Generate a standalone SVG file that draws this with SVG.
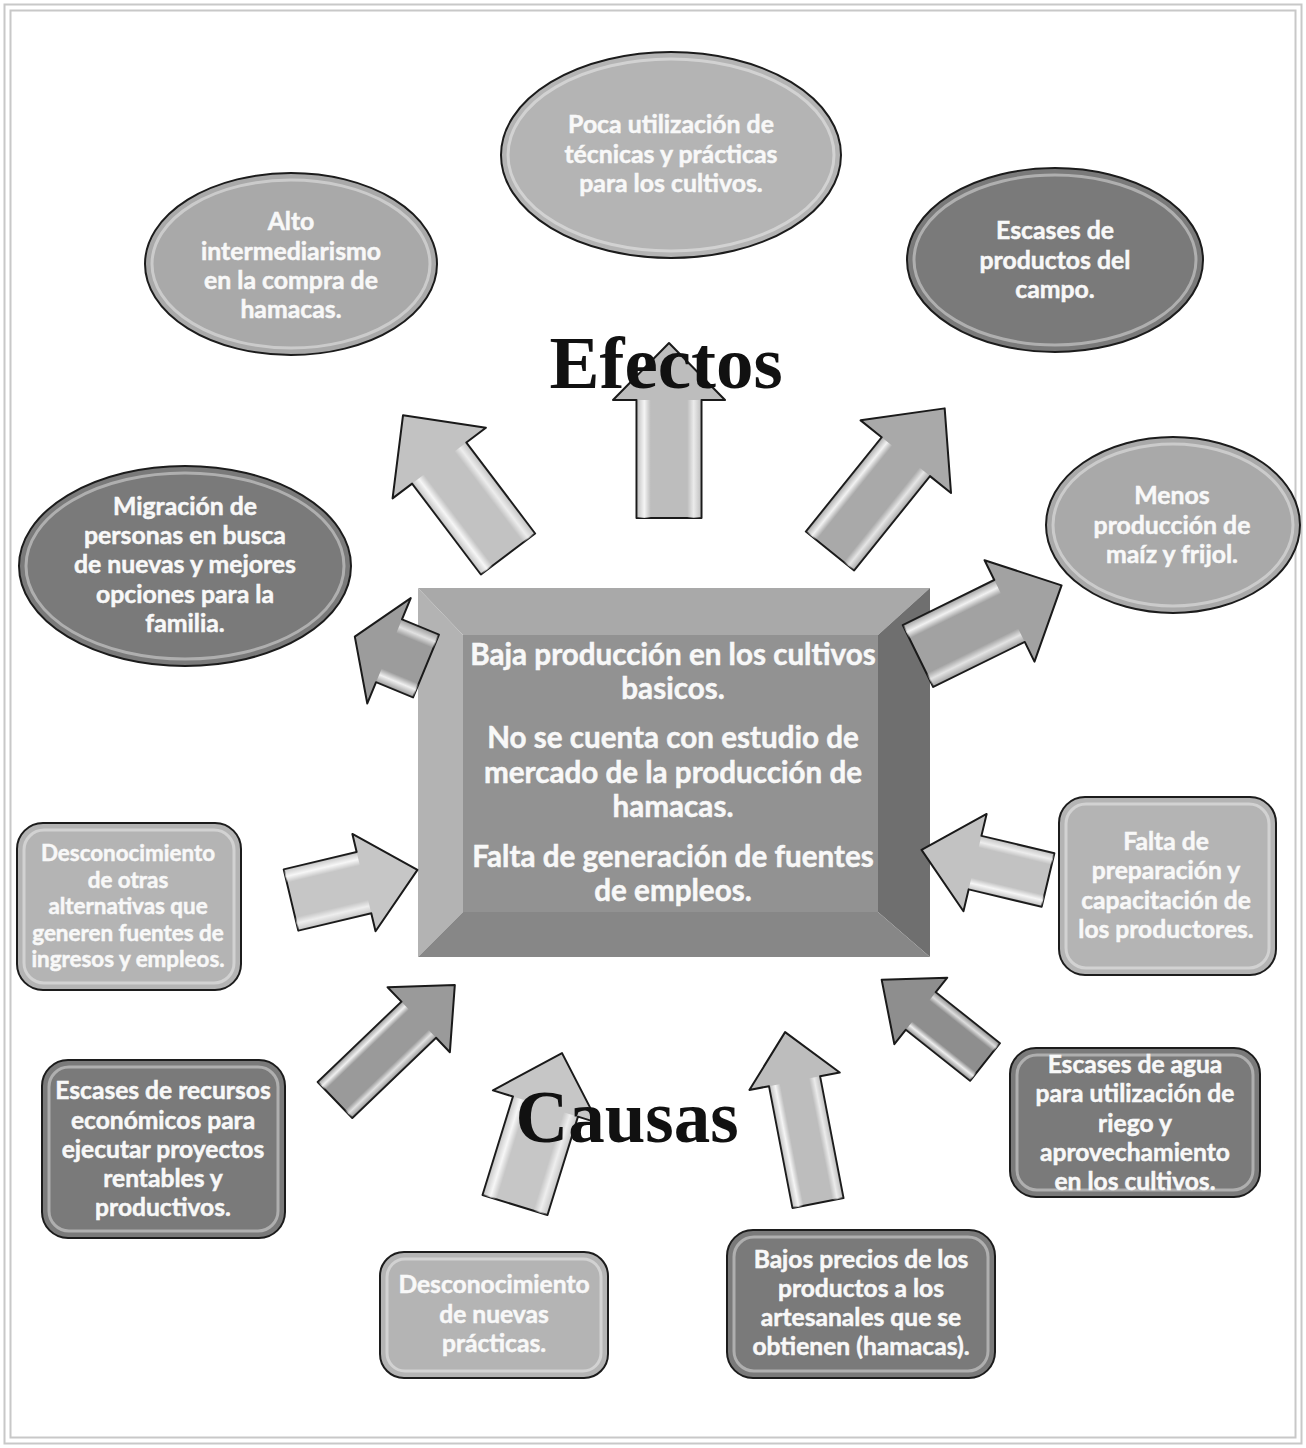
<svg xmlns="http://www.w3.org/2000/svg" width="1306" height="1448" viewBox="0 0 1306 1448">
<style>
.frame{fill:none;stroke:#c8c8c8;stroke-width:2}
.t{font-family:Lato,"Open Sans","Liberation Sans",sans-serif;font-weight:bold;fill:#f8f8f8;stroke:#f8f8f8;stroke-width:0.5;text-anchor:middle}
.e{font-size:24.8px}
.r{font-size:24.6px}
.s{font-size:22.4px}
.c{font-size:29.6px}
.title{font-family:"Liberation Serif",serif;font-weight:bold;fill:#111;text-anchor:middle}
.nd{stroke:#1c1c1c;stroke-width:2}
.hl{fill:none;stroke:#ffffff;stroke-opacity:0.4;stroke-width:3}
.light{fill:#b4b4b4}
.mid{fill:#a9a9a9}
.dark{fill:#7a7a7a}
.ar{stroke:#1a1a1a;stroke-width:2;stroke-linejoin:round}
</style>
<defs>
<linearGradient id="shine" x1="0" y1="0" x2="0" y2="1">
<stop offset="0" stop-color="#fff" stop-opacity="0"/>
<stop offset="0.12" stop-color="#fff" stop-opacity="0.85"/>
<stop offset="0.22" stop-color="#fff" stop-opacity="0"/>
<stop offset="0.78" stop-color="#fff" stop-opacity="0"/>
<stop offset="0.88" stop-color="#fff" stop-opacity="0.7"/>
<stop offset="1" stop-color="#fff" stop-opacity="0"/>
</linearGradient>
</defs>
<rect class="frame" x="4.5" y="4.5" width="1297" height="1439"/>
<rect class="frame" x="10.5" y="10.5" width="1285" height="1427"/>

<g id="center">
<polygon points="418,588 930,588 878,635 463,635" fill="#a9a9a9"/>
<polygon points="418,588 463,635 463,912 418,957" fill="#b3b3b3"/>
<polygon points="930,588 930,957 878,912 878,635" fill="#6f6f6f"/>
<polygon points="418,957 463,912 878,912 930,957" fill="#878787"/>
<rect x="463" y="635" width="415" height="277" fill="#929292"/>
<text class="t c"><tspan x="673" y="665">Baja producción en los cultivos</tspan><tspan x="673" y="699">basicos.</tspan><tspan x="673" y="748">No se cuenta con estudio de</tspan><tspan x="673" y="783">mercado de la producción de</tspan><tspan x="673" y="817">hamacas.</tspan><tspan x="673" y="867">Falta de generación de fuentes</tspan><tspan x="673" y="901">de empleos.</tspan></text>
</g>

<g id="connectors">
<g transform="translate(508,554) rotate(-127.1)"><polygon class="ar" fill="#c2c2c2" points="0,-34 114,-34 114,-58.5 174,0 114,58.5 114,34 0,34"/><rect x="0" y="-34" width="114" height="68" fill="url(#shine)"/></g>
<g transform="translate(669,518) rotate(-90)"><polygon class="ar" fill="#bdbdbd" points="0,-32.5 118,-32.5 118,-56 175,0 118,56 118,32.5 0,32.5"/><rect x="0" y="-32.5" width="118" height="65" fill="url(#shine)"/></g>
<g transform="translate(830,551) rotate(-51.2)"><polygon class="ar" fill="#a9a9a9" points="0,-31 121,-31 121,-58 183,0 121,58 121,31 0,31"/><rect x="0" y="-31" width="121" height="62" fill="url(#shine)"/></g>
<g transform="translate(426,666) rotate(202.4)"><polygon class="ar" fill="#9c9c9c" points="0,-34 40,-34 40,-57 77,0 40,57 40,34 0,34"/><rect x="0" y="-34" width="40" height="68" fill="url(#shine)"/></g>
<g transform="translate(918,656) rotate(-26.2)"><polygon class="ar" fill="#a2a2a2" points="0,-34.5 102,-34.5 102,-56.5 160,0 102,56.5 102,34.5 0,34.5"/><rect x="0" y="-34.5" width="102" height="69" fill="url(#shine)"/></g>
<g transform="translate(291,900) rotate(-13.4)"><polygon class="ar" fill="#c6c6c6" points="0,-31.5 75,-31.5 75,-50 130,0 75,50 75,31.5 0,31.5"/><rect x="0" y="-31.5" width="75" height="63" fill="url(#shine)"/></g>
<g transform="translate(335,1100) rotate(-43.8)"><polygon class="ar" fill="#9a9a9a" points="0,-25 116,-25 116,-45 166,0 116,45 116,25 0,25"/><rect x="0" y="-25" width="116" height="50" fill="url(#shine)"/></g>
<g transform="translate(515,1205) rotate(-72.8)"><polygon class="ar" fill="#c6c6c6" points="0,-34 103,-34 103,-55 159,0 103,55 103,34 0,34"/><rect x="0" y="-34" width="103" height="68" fill="url(#shine)"/></g>
<g transform="translate(818,1203) rotate(-100.9)"><polygon class="ar" fill="#bdbdbd" points="0,-26 124,-26 124,-46 174,0 124,46 124,26 0,26"/><rect x="0" y="-26" width="124" height="52" fill="url(#shine)"/></g>
<g transform="translate(985,1062) rotate(-141.5)"><polygon class="ar" fill="#8e8e8e" points="0,-24 82,-24 82,-42.5 132,0 82,42.5 82,24 0,24"/><rect x="0" y="-24" width="82" height="48" fill="url(#shine)"/></g>
<g transform="translate(1048,880) rotate(-166.6)"><polygon class="ar" fill="#c2c2c2" points="0,-27.5 75,-27.5 75,-50 130,0 75,50 75,27.5 0,27.5"/><rect x="0" y="-27.5" width="75" height="55" fill="url(#shine)"/></g>
</g>

<text class="title" x="666" y="388" font-size="75">Efectos</text>
<text class="title" x="627" y="1142" font-size="73">Causas</text>

<g id="e1">
<ellipse class="nd light" cx="671" cy="155" rx="170" ry="103"/>
<ellipse class="hl" cx="671" cy="155" rx="163" ry="96"/>
<text class="t e"><tspan x="671" y="133">Poca utilización de</tspan><tspan x="671" y="163">técnicas y prácticas</tspan><tspan x="671" y="192">para los cultivos.</tspan></text>
</g>
<g id="e2">
<ellipse class="nd mid" cx="291" cy="264" rx="146" ry="91"/>
<ellipse class="hl" cx="291" cy="264" rx="139" ry="84"/>
<text class="t e"><tspan x="291" y="230">Alto</tspan><tspan x="291" y="260">intermediarismo</tspan><tspan x="291" y="289">en la compra de</tspan><tspan x="291" y="318">hamacas.</tspan></text>
</g>
<g id="e3">
<ellipse class="nd dark" cx="1055" cy="260" rx="148" ry="92"/>
<ellipse class="hl" cx="1055" cy="260" rx="141" ry="85"/>
<text class="t e"><tspan x="1055" y="239">Escases de</tspan><tspan x="1055" y="269">productos del</tspan><tspan x="1055" y="298">campo.</tspan></text>
</g>
<g id="e4">
<ellipse class="nd dark" cx="185" cy="566" rx="166" ry="100"/>
<ellipse class="hl" cx="185" cy="566" rx="159" ry="93"/>
<text class="t e"><tspan x="185" y="515">Migración de</tspan><tspan x="185" y="544">personas en busca</tspan><tspan x="185" y="573">de nuevas y mejores</tspan><tspan x="185" y="603">opciones para la</tspan><tspan x="185" y="632">familia.</tspan></text>
</g>
<g id="e5">
<ellipse class="nd mid" cx="1173" cy="525" rx="127" ry="88"/>
<ellipse class="hl" cx="1173" cy="525" rx="120" ry="81"/>
<text class="t e"><tspan x="1172" y="504">Menos</tspan><tspan x="1172" y="534">producción de</tspan><tspan x="1172" y="563">maíz y frijol.</tspan></text>
</g>

<g id="r1">
<rect class="nd light" x="17" y="823" width="224" height="167" rx="26"/>
<rect class="hl" x="24" y="830" width="210" height="153" rx="20"/>
<text class="t s"><tspan x="128" y="861">Desconocimiento</tspan><tspan x="128" y="888">de otras</tspan><tspan x="128" y="914">alternativas que</tspan><tspan x="128" y="941">generen fuentes de</tspan><tspan x="128" y="967">ingresos y empleos.</tspan></text>
</g>
<g id="r2">
<rect class="nd dark" x="42" y="1060" width="243" height="178" rx="26"/>
<rect class="hl" x="49" y="1067" width="229" height="164" rx="20"/>
<text class="t r"><tspan x="163" y="1099">Escases de recursos</tspan><tspan x="163" y="1129">económicos para</tspan><tspan x="163" y="1158">ejecutar proyectos</tspan><tspan x="163" y="1187">rentables y</tspan><tspan x="163" y="1216">productivos.</tspan></text>
</g>
<g id="r3">
<rect class="nd light" x="380" y="1252" width="228" height="126" rx="24"/>
<rect class="hl" x="387" y="1259" width="214" height="112" rx="18"/>
<text class="t r"><tspan x="494" y="1293">Desconocimiento</tspan><tspan x="494" y="1323">de nuevas</tspan><tspan x="494" y="1352">prácticas.</tspan></text>
</g>
<g id="r4">
<rect class="nd dark" x="727" y="1230" width="268" height="148" rx="26"/>
<rect class="hl" x="734" y="1237" width="254" height="134" rx="20"/>
<text class="t r"><tspan x="861" y="1268">Bajos precios de los</tspan><tspan x="861" y="1297">productos a los</tspan><tspan x="861" y="1326">artesanales que se</tspan><tspan x="861" y="1355">obtienen (hamacas).</tspan></text>
</g>
<g id="r5">
<rect class="nd dark" x="1010" y="1048" width="250" height="149" rx="26"/>
<rect class="hl" x="1017" y="1055" width="236" height="135" rx="20"/>
<text class="t r"><tspan x="1135" y="1073">Escases de agua</tspan><tspan x="1135" y="1102">para utilización de</tspan><tspan x="1135" y="1132">riego y</tspan><tspan x="1135" y="1161">aprovechamiento</tspan><tspan x="1135" y="1190">en los cultivos.</tspan></text>
</g>
<g id="r6">
<rect class="nd light" x="1059" y="797" width="217" height="178" rx="26"/>
<rect class="hl" x="1066" y="804" width="203" height="164" rx="20"/>
<text class="t r"><tspan x="1166" y="850">Falta de</tspan><tspan x="1166" y="879">preparación y</tspan><tspan x="1166" y="909">capacitación de</tspan><tspan x="1166" y="938">los productores.</tspan></text>
</g>
</svg>
